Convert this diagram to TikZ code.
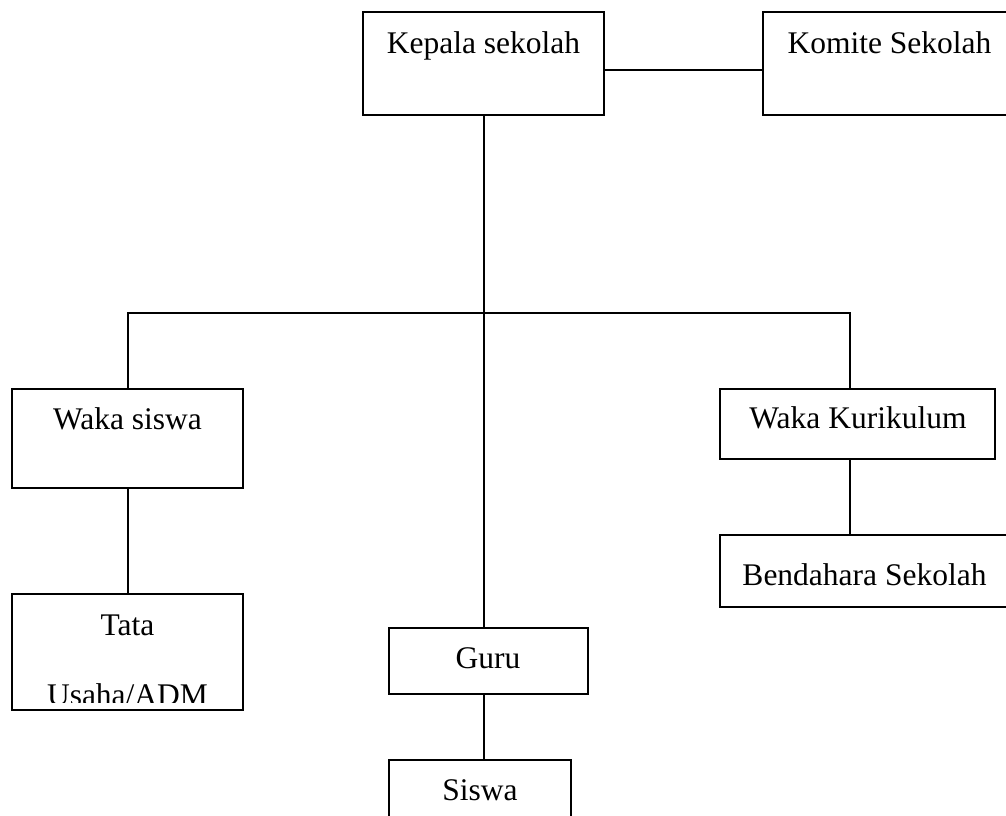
\documentclass[tikz,border=0pt]{standalone}
\usepackage{fontspec}
\setmainfont{Liberation Serif}
\usetikzlibrary{calc}

\tikzset{
  box/.style={draw, rectangle, inner sep=0pt, line width=1.1pt},
  lbl/.style={anchor=base, inner sep=0pt, font=\fontsize{15.75}{19}\selectfont},
  link/.style={line width=1pt},
}

\begin{document}
\begin{tikzpicture}[x=0.5pt,y=-0.5pt,line cap=rect,line join=miter]
  \useasboundingbox (0,0) rectangle (1006,815);
  \clip (0,0) rectangle (1006,815);

  % boxes
  \node[box, minimum width=120.5pt, minimum height=51.5pt] (kepala) at (483.5,63.5) {};
  \node[box, minimum width=124.5pt, minimum height=51.5pt] (komite) at (887.5,63.5) {};
  \node[box, minimum width=115.5pt, minimum height=49.5pt] (wakasiswa) at (127.5,438.5) {};
  \node[box, minimum width=137.5pt, minimum height=35pt] (wakakur) at (857.5,424) {};
  \node[box, minimum width=145pt, minimum height=36pt] (bendahara) at (865,571) {};
  \node[box, minimum width=115.5pt, minimum height=58pt] (tata) at (127.5,652) {};
  \node[box, minimum width=99.5pt, minimum height=33pt] (guru) at (488.5,661) {};
  \node[box, minimum width=91pt, minimum height=40pt] (siswa) at (480,800) {};

  % labels
  \node[lbl] (kepala-t) at (483.5,53) {Kepala sekolah};
  \node[lbl] (komite-t) at (889.5,53) {Komite Sekolah};
  \node[lbl] (wakasiswa-t) at (127.5,429) {Waka siswa};
  \node[lbl] (wakakur-t) at (858,428) {Waka Kurikulum};
  \node[lbl] (bendahara-t) at (864.5,585) {Bendahara Sekolah};
  \node[lbl] (guru-t) at (488,668) {Guru};
  \node[lbl] (siswa-t) at (480,800) {Siswa};
  \begin{scope}
    \clip (tata.north west) rectangle ([yshift=4.5pt]tata.south east);
    \node[lbl] (tata-t) at (127.5,635) {Tata};
    \node[lbl] (usaha-t) at (127.5,705) {Usaha/ADM};
  \end{scope}

  % lines
  \coordinate (split-l) at (128,313);
  \coordinate (split-r) at (850,313);
  \draw[link] ([yshift=-3pt]kepala.east) -- ([yshift=-3pt]komite.west);
  \draw[link] (kepala.south) -- (kepala.south |- guru.north);
  \draw[link] (split-l) -- (split-r);
  \draw[link] (split-l) -- (split-l |- wakasiswa.north);
  \draw[link] (split-r) -- (split-r |- wakakur.north);
  \draw[link] (wakasiswa.south) -- (tata.north);
  \draw[link] (split-r |- wakakur.south) -- (split-r |- bendahara.north);
  \draw[link] (guru.south -| kepala.south) -- (siswa.north -| kepala.south);
\end{tikzpicture}
\end{document}
